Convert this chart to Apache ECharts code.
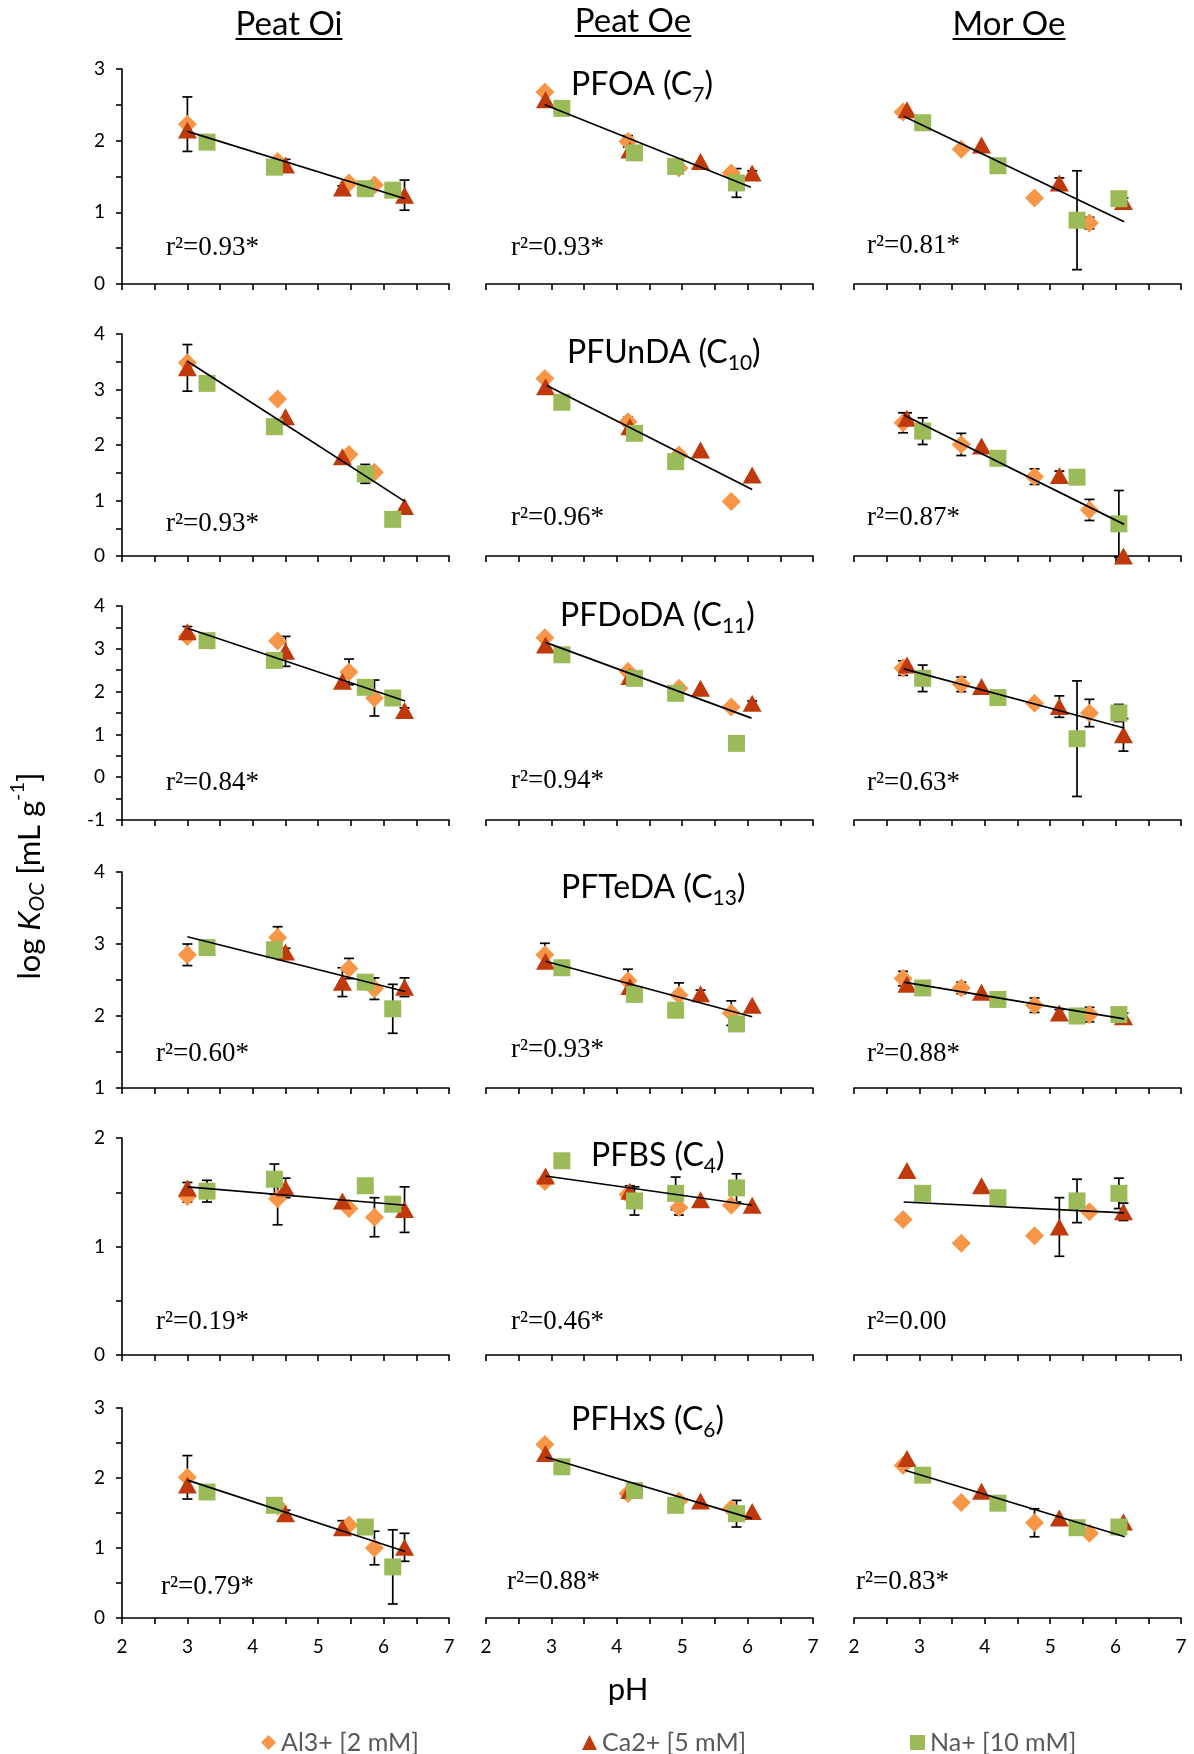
<!DOCTYPE html>
<html><head><meta charset="utf-8">
<script src="https://cdn.jsdelivr.net/npm/echarts@6/dist/echarts.min.js"></script>
<style>html,body{margin:0;padding:0;background:#fff}#c{width:1194px;height:1754px}</style>
</head><body><div id="c"></div><script>
// ---------- DATA ----------
const soils = ['Peat Oi', 'Peat Oe', 'Mor Oe'];
const compounds = ['PFOA', 'PFUnDA', 'PFDoDA', 'PFTeDA', 'PFBS', 'PFHxS'];
const chainLen = ['7', '10', '11', '13', '4', '6'];
const ions = ['Al3+ [2 mM]', 'Ca2+ [5 mM]', 'Na+ [10 mM]'];

// pH of each treatment per soil [Peat Oi, Peat Oe, Mor Oe]
const pH_Al = [[3.0, 4.38, 5.47, 5.86], [2.90, 4.17, 4.95, 5.75], [2.75, 3.64, 4.76, 5.60]];
const pH_Ca = [[3.0, 4.50, 5.37, 6.32], [2.91, 4.20, 5.28, 6.07], [2.81, 3.95, 5.14, 6.12]];
const pH_Na = [[3.30, 4.33, 5.72, 6.14], [3.16, 4.27, 4.90, 5.83], [3.05, 4.20, 5.41, 6.05]];

// log Koc per compound: [Peat Oi, Peat Oe, Mor Oe]
const PFOA_Al = [[2.23, 1.71, 1.41, 1.38], [2.68, 1.99, 1.62, 1.55], [2.40, 1.88, 1.20, 0.85]];
const PFOA_Ca = [[2.15, 1.66, 1.34, 1.24], [2.57, 1.87, 1.71, 1.55], [2.43, 1.94, 1.41, 1.15]];
const PFOA_Na = [[1.98, 1.63, 1.33, 1.31], [2.45, 1.83, 1.64, 1.41], [2.25, 1.65, 0.89, 1.19]];
const PFOA_AlErr = [[0.38, 0, 0.03, 0.03], [0, 0.08, 0, 0.05], [0, 0, 0.05, 0.08]];
const PFOA_CaErr = [[0, 0.08, 0.03, 0.21], [0, 0, 0, 0.03], [0, 0, 0.07, 0.05]];
const PFOA_NaErr = [[0, 0, 0, 0], [0, 0, 0, 0.20], [0, 0, 0.69, 0.05]];
const PFOA_fit = [[3.0, 2.13, 6.33, 1.19], [2.90, 2.50, 6.05, 1.35], [2.76, 2.34, 6.13, 0.87]];

const PFUnDA_Al = [[3.48, 2.83, 1.83, 1.51], [3.20, 2.42, 1.82, 0.98], [2.40, 2.01, 1.43, 0.83]];
const PFUnDA_Ca = [[3.39, 2.51, 1.79, 0.89], [3.05, 2.33, 1.91, 1.46], [2.48, 1.98, 1.45, 0.00]];
const PFUnDA_Na = [[3.11, 2.33, 1.48, 0.66], [2.77, 2.21, 1.70, null], [2.25, 1.76, 1.42, 0.58]];
const PFUnDA_AlErr = [[0, 0, 0, 0], [0, 0.08, 0.05, 0], [0.18, 0.20, 0.14, 0.19]];
const PFUnDA_CaErr = [[0.42, 0, 0, 0], [0, 0, 0, 0], [0.10, 0, 0.08, 0]];
const PFUnDA_NaErr = [[0, 0.10, 0.17, 0], [0, 0, 0, 0], [0.24, 0, 0, 0.60]];
const PFUnDA_fit = [[3.0, 3.51, 6.33, 0.98], [2.93, 3.07, 6.07, 1.20], [2.76, 2.54, 6.13, 0.57]];

const PFDoDA_Al = [[3.29, 3.18, 2.46, 1.85], [3.26, 2.47, 2.08, 1.64], [2.55, 2.17, 1.73, 1.50]];
const PFDoDA_Ca = [[3.40, 2.94, 2.24, 1.56], [3.09, 2.35, 2.08, 1.73], [2.62, 2.12, 1.65, 0.99]];
const PFDoDA_Na = [[3.19, 2.73, 2.10, 1.85], [2.86, 2.31, 1.96, 0.79], [2.31, 1.86, 0.90, 1.50]];
const PFDoDA_AlErr = [[0, 0, 0.30, 0.42], [0, 0, 0.06, 0], [0.17, 0.17, 0, 0.32]];
const PFDoDA_CaErr = [[0.12, 0.35, 0, 0.06], [0, 0, 0, 0.05], [0, 0, 0.25, 0.38]];
const PFDoDA_NaErr = [[0, 0, 0, 0], [0, 0, 0, 0], [0.31, 0, 1.35, 0.20]];
const PFDoDA_fit = [[3.0, 3.48, 6.33, 1.78], [2.91, 3.15, 6.06, 1.38], [2.76, 2.53, 6.13, 1.15]];

const PFTeDA_Al = [[2.85, 3.09, 2.66, 2.38], [2.85, 2.49, 2.29, 2.04], [2.52, 2.39, 2.15, 2.02]];
const PFTeDA_Ca = [[null, 2.89, 2.47, 2.40], [2.76, 2.41, 2.31, 2.15], [2.44, 2.33, 2.04, 1.99]];
const PFTeDA_Na = [[2.95, 2.92, 2.47, 2.10], [2.67, 2.30, 2.08, 1.89], [2.39, 2.23, 2.00, 2.02]];
const PFTeDA_AlErr = [[0.15, 0.15, 0.14, 0.15], [0.16, 0.16, 0.17, 0.17], [0.10, 0.08, 0.10, 0.10]];
const PFTeDA_CaErr = [[0, 0.05, 0.20, 0.13], [0, 0, 0.05, 0], [0, 0, 0.05, 0.05]];
const PFTeDA_NaErr = [[0, 0, 0, 0.34], [0, 0, 0, 0.05], [0, 0, 0.10, 0.05]];
const PFTeDA_fit = [[3.0, 3.10, 6.33, 2.34], [2.91, 2.76, 6.07, 1.99], [2.76, 2.47, 6.13, 1.96]];

const PFBS_Al = [[1.46, 1.44, 1.35, 1.27], [1.60, 1.48, 1.36, 1.38], [1.25, 1.03, 1.10, 1.32]];
const PFBS_Ca = [[1.54, 1.54, 1.42, 1.34], [1.65, 1.51, 1.43, 1.38], [1.70, 1.56, 1.18, 1.32]];
const PFBS_Na = [[1.51, 1.62, 1.56, 1.39], [1.79, 1.42, 1.49, 1.54], [1.49, 1.45, 1.42, 1.49]];
const PFBS_AlErr = [[0.05, 0.24, 0, 0.18], [0, 0, 0.07, 0], [0, 0.03, 0.03, 0]];
const PFBS_CaErr = [[0.05, 0.09, 0, 0.21], [0, 0.05, 0, 0], [0, 0, 0.27, 0.08]];
const PFBS_NaErr = [[0.10, 0.14, 0, 0], [0, 0.13, 0.15, 0.13], [0, 0, 0.20, 0.14]];
const PFBS_fit = [[3.0, 1.55, 6.33, 1.38], [2.91, 1.65, 6.07, 1.38], [2.76, 1.41, 6.13, 1.31]];

const PFHxS_Al = [[2.01, 1.60, 1.33, 1.00], [2.48, 1.78, 1.67, 1.56], [2.18, 1.65, 1.36, 1.21]];
const PFHxS_Ca = [[1.90, 1.49, 1.29, 1.01], [2.35, 1.82, 1.67, 1.52], [2.28, 1.81, 1.43, 1.37]];
const PFHxS_Na = [[1.80, 1.61, 1.30, 0.73], [2.16, 1.82, 1.61, 1.49], [2.04, 1.64, 1.29, 1.30]];
const PFHxS_AlErr = [[0.31, 0, 0, 0.24], [0, 0, 0, 0], [0.05, 0.05, 0.20, 0]];
const PFHxS_CaErr = [[0, 0.05, 0.10, 0.20], [0, 0, 0, 0], [0, 0, 0, 0]];
const PFHxS_NaErr = [[0, 0.08, 0, 0.53], [0, 0, 0, 0.19], [0, 0, 0, 0]];
const PFHxS_fit = [[3.0, 1.97, 6.33, 0.95], [2.91, 2.30, 6.07, 1.42], [2.78, 2.11, 6.14, 1.16]];

const r2Labels = [
  ['r\u00b2=0.93*', 'r\u00b2=0.93*', 'r\u00b2=0.81*'],
  ['r\u00b2=0.93*', 'r\u00b2=0.96*', 'r\u00b2=0.87*'],
  ['r\u00b2=0.84*', 'r\u00b2=0.94*', 'r\u00b2=0.63*'],
  ['r\u00b2=0.60*', 'r\u00b2=0.93*', 'r\u00b2=0.88*'],
  ['r\u00b2=0.19*', 'r\u00b2=0.46*', 'r\u00b2=0.00'],
  ['r\u00b2=0.79*', 'r\u00b2=0.88*', 'r\u00b2=0.83*']
];
const yMin = [0, 0, -1, 1, 0, 0];
const yMax = [3, 4, 4, 4, 2, 3];
const xTicks = [2, 7];

// ---------- TABLES ----------
const valTable = [
  [PFOA_Al, PFOA_Ca, PFOA_Na], [PFUnDA_Al, PFUnDA_Ca, PFUnDA_Na], [PFDoDA_Al, PFDoDA_Ca, PFDoDA_Na],
  [PFTeDA_Al, PFTeDA_Ca, PFTeDA_Na], [PFBS_Al, PFBS_Ca, PFBS_Na], [PFHxS_Al, PFHxS_Ca, PFHxS_Na]
];
const errTable = [
  [PFOA_AlErr, PFOA_CaErr, PFOA_NaErr], [PFUnDA_AlErr, PFUnDA_CaErr, PFUnDA_NaErr], [PFDoDA_AlErr, PFDoDA_CaErr, PFDoDA_NaErr],
  [PFTeDA_AlErr, PFTeDA_CaErr, PFTeDA_NaErr], [PFBS_AlErr, PFBS_CaErr, PFBS_NaErr], [PFHxS_AlErr, PFHxS_CaErr, PFHxS_NaErr]
];
const fitTable = [PFOA_fit, PFUnDA_fit, PFDoDA_fit, PFTeDA_fit, PFBS_fit, PFHxS_fit];
const pHTable = [pH_Al, pH_Ca, pH_Na];

// ---------- STYLE / LAYOUT ----------
const FONT = 'Lato';
const SANS = 'Lato, "Noto Sans", sans-serif';
const SERIF = '"Liberation Serif", "DejaVu Serif", serif';
const colors = ['#F79646', '#C0390B', '#9BBB59'];
const symbols = ['diamond', 'triangle', 'rect'];
const symSizes = [[19, 19], [19, 17], [17, 17]];
const colLeft = [122, 486, 854];
const colWidth = 327;
const rowTop = [69, 334, 606, 872, 1138, 1408];
const rowBottom = [284, 556, 820, 1088, 1355, 1618];
const r2Pos = [
  [[166, 248], [511, 248], [867, 246]],
  [[166, 524], [511, 518], [867, 518]],
  [[166, 783], [511, 781], [867, 783]],
  [[156, 1054], [511, 1050], [867, 1054]],
  [[156, 1322], [511, 1322], [867, 1322]],
  [[161, 1587], [507, 1582], [856, 1582]]
];
const titlePos = [[571, 85], [567, 353], [560, 616], [561, 888], [591, 1156], [571, 1420]];

const intFmt = v => (Math.abs(v - Math.round(v)) < 1e-6 ? String(Math.round(v)) : '');
const axisLineStyle = { color: '#000', width: 1.6 };

const measCtx = document.createElement('canvas').getContext('2d');
function textW(t, size, italic) {
  measCtx.font = (italic ? 'italic ' : '') + size + 'px ' + FONT;
  return measCtx.measureText(t).width;
}
// build runs of text (sub/superscripts) as separate text children laid out along x
function runChildren(parts, startX) {
  let x = startX;
  return parts.map(p => {
    const el = {
      type: 'text', x: x, y: p.dy || 0, silent: true,
      style: { text: p.t, fontSize: p.size, fontFamily: SANS, fontStyle: p.italic ? 'italic' : 'normal',
        fill: '#000', align: 'left', verticalAlign: 'middle', textAlign: 'left', textVerticalAlign: 'middle' }
    };
    x += textW(p.t, p.size, p.italic);
    return el;
  });
}
function runWidth(parts) { return parts.reduce((s, p) => s + textW(p.t, p.size, p.italic), 0); }

const grids = [], xAxes = [], yAxes = [], series = [], graphics = [];

for (let r = 0; r < 6; r++) {
  for (let c = 0; c < 3; c++) {
    const gi = r * 3 + c;
    grids.push({ left: colLeft[c], width: colWidth, top: rowTop[r], height: rowBottom[r] - rowTop[r], containLabel: false });
    xAxes.push({
      gridIndex: gi, type: 'value', min: xTicks[0], max: xTicks[1], interval: 0.5,
      axisLine: { show: true, onZero: false, lineStyle: axisLineStyle },
      axisTick: { show: true, length: 6, lineStyle: axisLineStyle },
      axisLabel: { show: r === 5, formatter: intFmt, fontSize: 19, color: '#000', fontFamily: SANS, margin: 19 },
      splitLine: { show: false }
    });
    yAxes.push({
      gridIndex: gi, type: 'value', min: yMin[r], max: yMax[r], interval: 0.5, show: c === 0,
      axisLine: { show: true, onZero: false, lineStyle: axisLineStyle },
      axisTick: { show: true, length: 6, lineStyle: axisLineStyle },
      axisLabel: { show: true, formatter: intFmt, fontSize: 19, color: '#000', fontFamily: SANS, margin: 17 },
      splitLine: { show: false }
    });
    // error bars
    for (let k = 0; k < 3; k++) {
      const vals = valTable[r][k][c], errs = errTable[r][k][c], xs = pHTable[k][c];
      const ed = [];
      vals.forEach((v, i) => { if (v !== null && errs[i] > 0) ed.push([xs[i], v, errs[i]]); });
      series.push({
        type: 'custom', xAxisIndex: gi, yAxisIndex: gi, silent: true, z: 1, clip: false,
        encode: { x: 0, y: 1 },
        data: ed,
        renderItem: function (params, api) {
          const x = api.value(0), y = api.value(1), e = api.value(2);
          const t = api.coord([x, y + e]), b = api.coord([x, y - e]);
          const cw = 5, st = { stroke: '#000', lineWidth: 1.7 };
          return { type: 'group', children: [
            { type: 'line', shape: { x1: t[0], y1: t[1], x2: b[0], y2: b[1] }, style: st },
            { type: 'line', shape: { x1: t[0] - cw, y1: t[1], x2: t[0] + cw, y2: t[1] }, style: st },
            { type: 'line', shape: { x1: b[0] - cw, y1: b[1], x2: b[0] + cw, y2: b[1] }, style: st }
          ] };
        }
      });
    }
    // markers
    for (let k = 0; k < 3; k++) {
      const vals = valTable[r][k][c], xs = pHTable[k][c];
      const d = [];
      vals.forEach((v, i) => { if (v !== null) d.push([xs[i], v]); });
      series.push({
        type: 'scatter', name: ions[k], xAxisIndex: gi, yAxisIndex: gi, z: 3,
        symbol: symbols[k], symbolSize: symSizes[k],
        itemStyle: { color: colors[k], opacity: 1 },
        data: d, silent: true
      });
    }
    // regression line
    const f = fitTable[r][c];
    series.push({
      type: 'line', xAxisIndex: gi, yAxisIndex: gi, z: 4, silent: true,
      symbol: 'none', lineStyle: { color: '#000', width: 1.7 },
      data: [[f[0], f[1]], [f[2], f[3]]]
    });
    // r2 text
    graphics.push({
      type: 'text', x: r2Pos[r][c][0], y: r2Pos[r][c][1], silent: true,
      style: { text: r2Labels[r][c], fontSize: 27, fontFamily: SERIF, fill: '#000',
        align: 'left', verticalAlign: 'middle', textAlign: 'left', textVerticalAlign: 'middle' }
    });
  }
  // compound title with subscript
  const parts = [
    { t: compounds[r] + ' (C', size: 32 },
    { t: chainLen[r], size: 21, dy: 10 },
    { t: ')', size: 32 }
  ];
  graphics.push({ type: 'group', x: titlePos[r][0], y: titlePos[r][1], children: runChildren(parts, 0) });
}

// column headers with underline
const headerPos = [[289, 24], [633, 21], [1009, 24]];
soils.forEach((s, i) => {
  const w = textW(s, 33, false);
  graphics.push({
    type: 'text', x: headerPos[i][0], y: headerPos[i][1], silent: true,
    style: { text: s, fontSize: 33, fontFamily: SANS, fill: '#000',
      align: 'center', verticalAlign: 'middle', textAlign: 'center', textVerticalAlign: 'middle' }
  });
  graphics.push({
    type: 'line', silent: true,
    shape: { x1: headerPos[i][0] - w / 2, y1: headerPos[i][1] + 15, x2: headerPos[i][0] + w / 2, y2: headerPos[i][1] + 15 },
    style: { stroke: '#000', lineWidth: 2 }
  });
});

// y-axis title (rotated run)
const yParts = [
  { t: 'log ', size: 31 },
  { t: 'K', size: 31, italic: true },
  { t: 'OC', size: 21, italic: true, dy: 7 },
  { t: ' [mL g', size: 31 },
  { t: '-1', size: 20, dy: -12 },
  { t: ']', size: 31 }
];
graphics.push({
  type: 'group', x: 30, y: 876, rotation: Math.PI / 2,
  children: runChildren(yParts, -runWidth(yParts) / 2)
});
// x-axis title
graphics.push({
  type: 'text', x: 628, y: 1690, silent: true,
  style: { text: 'pH', fontSize: 31, fontFamily: SANS, fill: '#000',
    align: 'center', verticalAlign: 'middle', textAlign: 'center', textVerticalAlign: 'middle' }
});

const legendLeft = [256, 577, 905];
const legends = ions.map((n, k) => ({
  data: [{ name: n, icon: symbols[k] }], left: legendLeft[k], top: 1725,
  itemWidth: 15, itemHeight: 15, selectedMode: false,
  textStyle: { fontSize: 25, color: '#595959', fontFamily: SANS }
}));

const chart = echarts.init(document.getElementById('c'), null, { renderer: 'canvas' });
chart.setOption({
  animation: false,
  backgroundColor: '#fff',
  grid: grids, xAxis: xAxes, yAxis: yAxes, series: series,
  legend: legends, graphic: { elements: graphics }
});
</script></body></html>
